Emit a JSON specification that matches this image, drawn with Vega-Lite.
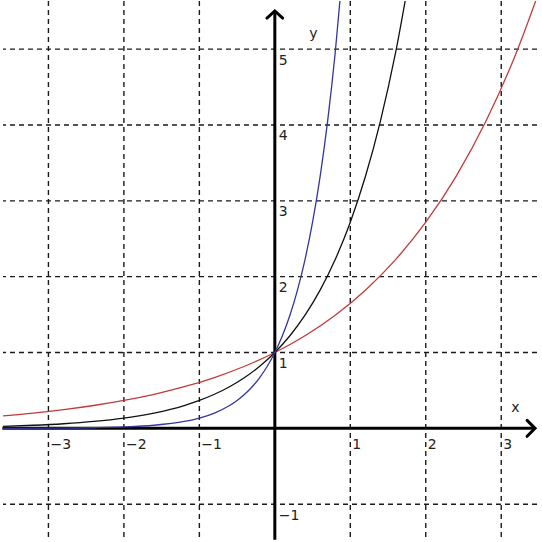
{
  "$schema": "https://vega.github.io/schema/vega-lite/v6.json",
  "autosize": {"type": "fit", "contains": "padding"},
  "width": 542,
  "height": 542,
  "padding": 0,
  "background": "white",
  "config": {"view": {"stroke": null}},
  "datasets": {
    "curves": [
      {"series": "e^(x/2)", "x": -3.6, "y": 0.1653},
      {"series": "e^(x/2)", "x": -3.2, "y": 0.2019},
      {"series": "e^(x/2)", "x": -2.8, "y": 0.2466},
      {"series": "e^(x/2)", "x": -2.4, "y": 0.3012},
      {"series": "e^(x/2)", "x": -2.0, "y": 0.3679},
      {"series": "e^(x/2)", "x": -1.6, "y": 0.4493},
      {"series": "e^(x/2)", "x": -1.2, "y": 0.5488},
      {"series": "e^(x/2)", "x": -0.8, "y": 0.6703},
      {"series": "e^(x/2)", "x": -0.4, "y": 0.8187},
      {"series": "e^(x/2)", "x": 0.0, "y": 1.0},
      {"series": "e^(x/2)", "x": 0.4, "y": 1.2214},
      {"series": "e^(x/2)", "x": 0.8, "y": 1.4918},
      {"series": "e^(x/2)", "x": 1.2, "y": 1.8221},
      {"series": "e^(x/2)", "x": 1.6, "y": 2.2255},
      {"series": "e^(x/2)", "x": 2.0, "y": 2.7183},
      {"series": "e^(x/2)", "x": 2.4, "y": 3.3201},
      {"series": "e^(x/2)", "x": 2.8, "y": 4.0552},
      {"series": "e^(x/2)", "x": 3.2, "y": 4.953},
      {"series": "e^(x/2)", "x": 3.5, "y": 5.7546},
      {"series": "e^x", "x": -3.6, "y": 0.0273},
      {"series": "e^x", "x": -3.2, "y": 0.0408},
      {"series": "e^x", "x": -2.8, "y": 0.0608},
      {"series": "e^x", "x": -2.4, "y": 0.0907},
      {"series": "e^x", "x": -2.0, "y": 0.1353},
      {"series": "e^x", "x": -1.6, "y": 0.2019},
      {"series": "e^x", "x": -1.2, "y": 0.3012},
      {"series": "e^x", "x": -1.0, "y": 0.3679},
      {"series": "e^x", "x": -0.8, "y": 0.4493},
      {"series": "e^x", "x": -0.6, "y": 0.5488},
      {"series": "e^x", "x": -0.4, "y": 0.6703},
      {"series": "e^x", "x": -0.2, "y": 0.8187},
      {"series": "e^x", "x": 0.0, "y": 1.0},
      {"series": "e^x", "x": 0.2, "y": 1.2214},
      {"series": "e^x", "x": 0.4, "y": 1.4918},
      {"series": "e^x", "x": 0.6, "y": 1.8221},
      {"series": "e^x", "x": 0.8, "y": 2.2255},
      {"series": "e^x", "x": 1.0, "y": 2.7183},
      {"series": "e^x", "x": 1.2, "y": 3.3201},
      {"series": "e^x", "x": 1.4, "y": 4.0552},
      {"series": "e^x", "x": 1.6, "y": 4.953},
      {"series": "e^x", "x": 1.8, "y": 6.0496},
      {"series": "e^(2x)", "x": -3.6, "y": 0.0007},
      {"series": "e^(2x)", "x": -3.0, "y": 0.0025},
      {"series": "e^(2x)", "x": -2.4, "y": 0.0082},
      {"series": "e^(2x)", "x": -2.0, "y": 0.0183},
      {"series": "e^(2x)", "x": -1.6, "y": 0.0408},
      {"series": "e^(2x)", "x": -1.2, "y": 0.0907},
      {"series": "e^(2x)", "x": -1.0, "y": 0.1353},
      {"series": "e^(2x)", "x": -0.8, "y": 0.2019},
      {"series": "e^(2x)", "x": -0.6, "y": 0.3012},
      {"series": "e^(2x)", "x": -0.5, "y": 0.3679},
      {"series": "e^(2x)", "x": -0.4, "y": 0.4493},
      {"series": "e^(2x)", "x": -0.3, "y": 0.5488},
      {"series": "e^(2x)", "x": -0.2, "y": 0.6703},
      {"series": "e^(2x)", "x": -0.1, "y": 0.8187},
      {"series": "e^(2x)", "x": 0.0, "y": 1.0},
      {"series": "e^(2x)", "x": 0.1, "y": 1.2214},
      {"series": "e^(2x)", "x": 0.2, "y": 1.4918},
      {"series": "e^(2x)", "x": 0.3, "y": 1.8221},
      {"series": "e^(2x)", "x": 0.4, "y": 2.2255},
      {"series": "e^(2x)", "x": 0.5, "y": 2.7183},
      {"series": "e^(2x)", "x": 0.6, "y": 3.3201},
      {"series": "e^(2x)", "x": 0.7, "y": 4.0552},
      {"series": "e^(2x)", "x": 0.8, "y": 4.953},
      {"series": "e^(2x)", "x": 0.9, "y": 6.0496}
    ],
    "vgrid": [{"x": -3}, {"x": -2}, {"x": -1}, {"x": 1}, {"x": 2}, {"x": 3}],
    "hgrid": [{"y": -1}, {"y": 1}, {"y": 2}, {"y": 3}, {"y": 4}, {"y": 5}],
    "axes": [
      {"x": 0, "y": -1.47, "x2": 0, "y2": 5.5},
      {"x": -3.61, "y": 0, "x2": 3.448, "y2": 0}
    ],
    "arrows": [
      {"arrow": "y", "order": 1, "x": -0.104, "y": 5.41},
      {"arrow": "y", "order": 2, "x": 0, "y": 5.504},
      {"arrow": "y", "order": 3, "x": 0.104, "y": 5.41},
      {"arrow": "x", "order": 1, "x": 3.343, "y": 0.105},
      {"arrow": "x", "order": 2, "x": 3.448, "y": 0},
      {"arrow": "x", "order": 3, "x": 3.343, "y": -0.105}
    ],
    "xlabels": [
      {"x": -3, "y": 0, "label": "−3"},
      {"x": -2, "y": 0, "label": "−2"},
      {"x": -1, "y": 0, "label": "−1"},
      {"x": 1, "y": 0, "label": "1"},
      {"x": 2, "y": 0, "label": "2"},
      {"x": 3, "y": 0, "label": "3"}
    ],
    "ylabels": [
      {"x": 0, "y": -1, "label": "−1"},
      {"x": 0, "y": 1, "label": "1"},
      {"x": 0, "y": 2, "label": "2"},
      {"x": 0, "y": 3, "label": "3"},
      {"x": 0, "y": 4, "label": "4"},
      {"x": 0, "y": 5, "label": "5"}
    ],
    "names": [
      {"x": 3.187, "y": 0.268, "label": "x"},
      {"x": 0.51, "y": 5.2, "label": "y"}
    ]
  },
  "layer": [
    {
      "data": {"name": "vgrid"},
      "mark": {"type": "rule", "color": "#1a1a1a", "strokeWidth": 1.4, "strokeDash": [5, 4]},
      "encoding": {
        "x": {"field": "x", "type": "quantitative", "scale": {"domain": [-3.602, 3.474], "nice": false, "zero": false}, "axis": null}
      }
    },
    {
      "data": {"name": "hgrid"},
      "mark": {"type": "rule", "color": "#1a1a1a", "strokeWidth": 1.4, "strokeDash": [5, 4]},
      "encoding": {
        "y": {"field": "y", "type": "quantitative", "scale": {"domain": [-1.459, 5.635], "nice": false, "zero": false}, "axis": null}
      }
    },
    {
      "data": {"name": "axes"},
      "mark": {"type": "rule", "color": "black", "strokeWidth": 3},
      "encoding": {
        "x": {"field": "x", "type": "quantitative"},
        "y": {"field": "y", "type": "quantitative"},
        "x2": {"field": "x2"},
        "y2": {"field": "y2"}
      }
    },
    {
      "data": {"name": "arrows"},
      "mark": {"type": "line", "color": "black", "strokeWidth": 3, "strokeCap": "round", "strokeJoin": "miter"},
      "encoding": {
        "x": {"field": "x", "type": "quantitative"},
        "y": {"field": "y", "type": "quantitative"},
        "detail": {"field": "arrow"},
        "order": {"field": "order"}
      }
    },
    {
      "data": {"name": "curves"},
      "mark": {"type": "line", "strokeWidth": 1.3, "interpolate": "monotone", "clip": true},
      "encoding": {
        "x": {"field": "x", "type": "quantitative"},
        "y": {"field": "y", "type": "quantitative"},
        "color": {
          "field": "series",
          "type": "nominal",
          "scale": {"domain": ["e^(x/2)", "e^x", "e^(2x)"], "range": ["#c03a3a", "#111111", "#35359a"]},
          "legend": null
        }
      }
    },
    {
      "data": {"name": "xlabels"},
      "mark": {"type": "text", "font": "DejaVu Sans", "fontSize": 14, "color": "#222", "align": "left", "baseline": "middle", "dx": 2, "dy": 17},
      "encoding": {
        "x": {"field": "x", "type": "quantitative"},
        "y": {"field": "y", "type": "quantitative"},
        "text": {"field": "label"}
      }
    },
    {
      "data": {"name": "ylabels"},
      "mark": {"type": "text", "font": "DejaVu Sans", "fontSize": 14, "color": "#222", "align": "left", "baseline": "middle", "dx": 4, "dy": 11.5},
      "encoding": {
        "x": {"field": "x", "type": "quantitative"},
        "y": {"field": "y", "type": "quantitative"},
        "text": {"field": "label"}
      }
    },
    {
      "data": {"name": "names"},
      "mark": {"type": "text", "font": "DejaVu Sans", "fontSize": 14, "color": "#222", "align": "center", "baseline": "middle"},
      "encoding": {
        "x": {"field": "x", "type": "quantitative"},
        "y": {"field": "y", "type": "quantitative"},
        "text": {"field": "label"}
      }
    }
  ]
}
